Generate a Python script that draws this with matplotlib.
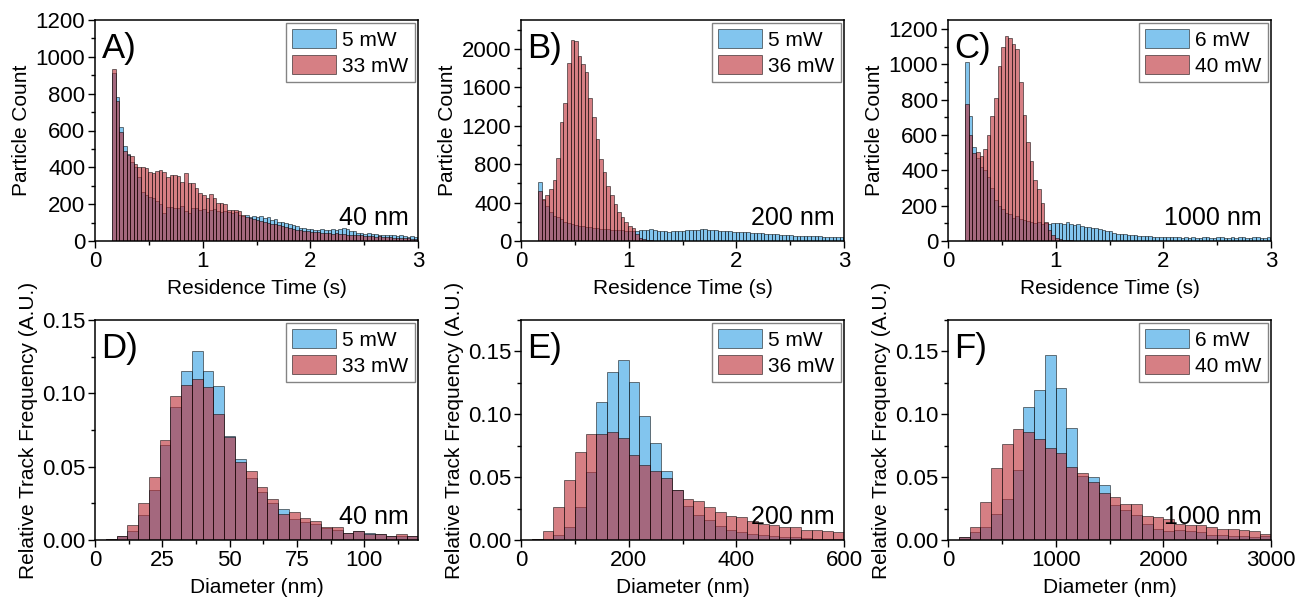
import numpy as np
import matplotlib
matplotlib.use("Agg")
import matplotlib.pyplot as plt
from matplotlib.ticker import MultipleLocator

plt.rcParams['font.family'] = ['Liberation Sans', 'DejaVu Sans']

# Residence time histograms (bin width 1/30 s, first bin at 0.16 s)
t_start = 0.16
t_width = 1 / 30

A_blue = [910, 780, 620, 515, 470, 430, 400, 345, 268, 250,
          241, 236, 215, 200, 150, 186, 186, 181, 177, 190,
          165, 150, 180, 178, 170, 176, 160, 170, 172, 165,
          155, 162, 160, 150, 158, 140, 138, 140, 132, 136,
          130, 134, 125, 128, 112, 118, 105, 102, 100, 92,
          88, 82, 70, 68, 64, 66, 62, 58, 64, 60,
          62, 66, 60, 64, 70, 66, 52, 55, 45, 42,
          40, 44, 36, 38, 33, 35, 32, 34, 30, 28,
          32, 27, 24, 26, 22, 20]
A_red = [935, 760, 590, 490, 465, 460, 420, 400, 403, 395,
         376, 367, 378, 385, 372, 346, 358, 358, 355, 322,
         371, 317, 315, 290, 259, 250, 232, 255, 232, 205,
         205, 200, 168, 170, 168, 162, 140, 132, 125, 118,
         112, 110, 102, 100, 95, 90, 85, 82, 75, 72,
         66, 60, 58, 55, 52, 50, 48, 47, 45, 44,
         42, 40, 42, 38, 36, 35, 33, 32, 30, 30,
         28, 27, 26, 24, 25, 22, 20, 20, 18, 17,
         16, 15, 14, 13, 12, 11]

B_blue = [616, 430, 360, 300, 265, 250, 230, 200, 190, 175,
          170, 160, 155, 150, 145, 140, 135, 128, 125, 120,
          118, 115, 112, 110, 108, 105, 105, 105, 110, 115,
          118, 120, 110, 105, 100, 100, 95, 100, 105, 100,
          105, 110, 110, 115, 112, 120, 125, 118, 112, 110,
          105, 108, 100, 102, 98, 95, 96, 92, 90, 88,
          86, 84, 80, 78, 74, 72, 68, 66, 64, 60,
          58, 57, 55, 54, 52, 50, 50, 48, 47, 46,
          45, 44, 43, 42, 41, 40]
B_red = [520, 440, 476, 545, 640, 866, 1242, 1433, 1850, 2094,
         2084, 1921, 1841, 1764, 1487, 1295, 1063, 854, 722, 576,
         479, 382, 306, 247, 201, 160, 132, 70, 35, 18,
         10, 6, 4, 3, 2, 2, 1, 1, 1, 1]

C_blue = [1015, 705, 534, 470, 420, 400, 360, 300, 230, 200,
          180, 160, 150, 130, 140, 125, 120, 115, 110, 100,
          105, 95, 100, 95, 100, 100, 100, 95, 105, 98,
          92, 95, 85, 80, 78, 75, 72, 70, 62, 58,
          55, 45, 40, 42, 38, 35, 32, 34, 28, 30,
          26, 28, 24, 25, 22, 24, 20, 22, 23, 20,
          18, 21, 19, 22, 18, 16, 20, 22, 18, 16,
          20, 22, 18, 16, 20, 18, 22, 20, 15, 18,
          20, 22, 18, 16, 20, 18]
C_red = [776, 600, 496, 505, 480, 520, 600, 705, 810, 992,
         1100, 1157, 1151, 1113, 1085, 902, 713, 562, 455, 345,
         294, 213, 110, 60, 35, 18, 10, 6, 4, 3,
         2, 2, 1, 1]

# Diameter histograms (30 bins each)
D_blue = [0.0, 0.0005, 0.003, 0.006, 0.017, 0.034, 0.065, 0.091, 0.115, 0.129,
          0.115, 0.105, 0.071, 0.055, 0.042, 0.033, 0.025, 0.021, 0.014, 0.012,
          0.011, 0.008, 0.007, 0.005, 0.006, 0.005, 0.004, 0.003, 0.003, 0.003]
D_red = [0.0, 0.0005, 0.003, 0.010, 0.025, 0.043, 0.068, 0.098, 0.106, 0.110,
         0.104, 0.086, 0.070, 0.053, 0.047, 0.036, 0.028, 0.018, 0.019, 0.015,
         0.013, 0.009, 0.009, 0.005, 0.006, 0.004, 0.004, 0.003, 0.004, 0.003]

E_blue = [0.0, 0.0005, 0.001, 0.004, 0.010, 0.026, 0.054, 0.110, 0.134, 0.143,
          0.126, 0.099, 0.077, 0.055, 0.040, 0.027, 0.020, 0.016, 0.011, 0.008,
          0.006, 0.005, 0.004, 0.003, 0.002, 0.002, 0.0015, 0.001, 0.001, 0.001]
E_red = [0.0, 0.0005, 0.007, 0.026, 0.048, 0.070, 0.084, 0.084, 0.086, 0.081,
         0.068, 0.060, 0.055, 0.049, 0.040, 0.033, 0.031, 0.026, 0.022, 0.019,
         0.018, 0.015, 0.013, 0.012, 0.010, 0.010, 0.008, 0.008, 0.007, 0.006]

F_blue = [0.0, 0.002, 0.006, 0.010, 0.021, 0.033, 0.056, 0.106, 0.119, 0.147,
          0.121, 0.089, 0.051, 0.050, 0.044, 0.028, 0.024, 0.020, 0.013, 0.009,
          0.007, 0.008, 0.007, 0.006, 0.004, 0.004, 0.003, 0.003, 0.002, 0.003]
F_red = [0.0, 0.002, 0.010, 0.030, 0.057, 0.076, 0.088, 0.086, 0.080, 0.073,
         0.069, 0.058, 0.053, 0.046, 0.037, 0.034, 0.029, 0.029, 0.019, 0.018,
         0.017, 0.013, 0.012, 0.012, 0.010, 0.009, 0.009, 0.008, 0.007, 0.005]

panels = [
    # letter, size, low label, high label, blue, red, bin start, bin width
    ("A)", "40 nm", "5 mW", "33 mW", A_blue, A_red, t_start, t_width),
    ("B)", "200 nm", "5 mW", "36 mW", B_blue, B_red, t_start, t_width),
    ("C)", "1000 nm", "6 mW", "40 mW", C_blue, C_red, t_start, t_width),
    ("D)", "40 nm", "5 mW", "33 mW", D_blue, D_red, 0, 4),
    ("E)", "200 nm", "5 mW", "36 mW", E_blue, E_red, 0, 20),
    ("F)", "1000 nm", "6 mW", "40 mW", F_blue, F_red, 0, 100),
]

BLUE = '#2f9fe4'
RED = '#bb2a33'
FS = 15

W, H = 1296, 597
fig = plt.figure(figsize=(W / 100, H / 100), dpi=100)

lefts = [95, 521, 948]
rows = [(20, 241), (320, 540)]

for k, (letter, size, lab_b, lab_r, blue, red, x0, bw) in enumerate(panels):
    row, col = divmod(k, 3)
    top, bot = rows[row]
    ax = fig.add_axes([lefts[col] / W, 1 - bot / H, 323 / W, (bot - top) / H])

    xb = x0 + bw * np.arange(len(blue))
    xr = x0 + bw * np.arange(len(red))
    ax.bar(xb, blue, width=bw, align='edge', color=BLUE, alpha=0.6,
           edgecolor='black', linewidth=0.6, label=lab_b)
    ax.bar(xr, red, width=bw, align='edge', color=RED, alpha=0.6,
           edgecolor='black', linewidth=0.6, label=lab_r)

    if row == 0:
        ax.set_xlim(0, 3)
        ax.xaxis.set_major_locator(MultipleLocator(1))
        ax.xaxis.set_minor_locator(MultipleLocator(0.5))
        ax.set_xlabel("Residence Time (s)", fontsize=FS, labelpad=5)
        ax.set_ylabel("Particle Count", fontsize=FS, labelpad=3)
    else:
        ax.set_xlabel("Diameter (nm)", fontsize=FS, labelpad=5)
        ax.set_ylabel("Relative Track Frequency (A.U.)", fontsize=FS, labelpad=3)
        ax.yaxis.set_major_locator(MultipleLocator(0.05))
        ax.yaxis.set_minor_locator(MultipleLocator(0.025))
        ax.yaxis.set_major_formatter(plt.FormatStrFormatter('%.2f'))

    if k == 0:
        ax.set_ylim(0, 1200)
        ax.yaxis.set_major_locator(MultipleLocator(200))
        ax.yaxis.set_minor_locator(MultipleLocator(100))
    elif k == 1:
        ax.set_ylim(0, 2300)
        ax.yaxis.set_major_locator(MultipleLocator(400))
        ax.yaxis.set_minor_locator(MultipleLocator(200))
    elif k == 2:
        ax.set_ylim(0, 1250)
        ax.yaxis.set_major_locator(MultipleLocator(200))
        ax.yaxis.set_minor_locator(MultipleLocator(100))
    elif k == 3:
        ax.set_ylim(0, 0.15)
        ax.set_xlim(0, 120)
        ax.xaxis.set_major_locator(MultipleLocator(25))
        ax.xaxis.set_minor_locator(MultipleLocator(12.5))
    elif k == 4:
        ax.set_ylim(0, 0.175)
        ax.set_xlim(0, 600)
        ax.xaxis.set_major_locator(MultipleLocator(200))
        ax.xaxis.set_minor_locator(MultipleLocator(100))
    else:
        ax.set_ylim(0, 0.175)
        ax.set_xlim(0, 3000)
        ax.xaxis.set_major_locator(MultipleLocator(1000))
        ax.xaxis.set_minor_locator(MultipleLocator(500))

    ax.tick_params(which='both', direction='out', labelsize=16, width=1,
                   top=False, right=False, pad=2)
    ax.tick_params(which='major', length=5)
    ax.tick_params(which='minor', length=3)
    for sp in ax.spines.values():
        sp.set_linewidth(1.1)

    ax.text(0.02, 0.945, letter, transform=ax.transAxes, fontsize=25,
            ha='left', va='top')
    ax.text(0.97, 0.05, size, transform=ax.transAxes, fontsize=18,
            ha='right', va='bottom')

    leg = ax.legend(loc='upper right', fontsize=FS, frameon=True, fancybox=False,
                    edgecolor='#666666', borderaxespad=0.15, borderpad=0.3,
                    handlelength=2.1, handleheight=1.0, labelspacing=0.25,
                    handletextpad=0.3)
    leg.get_frame().set_linewidth(1.0)

fig.savefig("out.png", dpi=100)
